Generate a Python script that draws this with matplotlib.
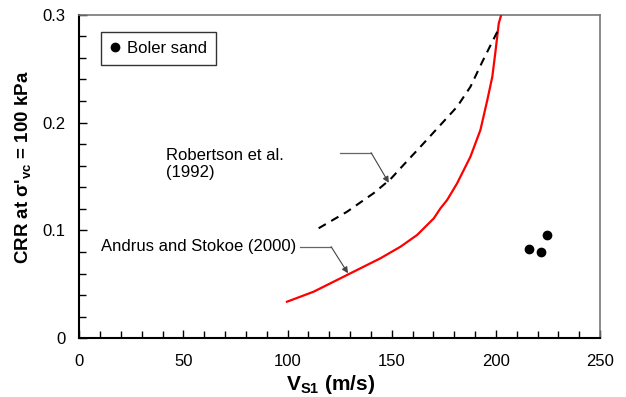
import matplotlib
matplotlib.use("Agg")
import matplotlib.pyplot as plt
from matplotlib.ticker import MultipleLocator

plt.rcParams['font.family'] = ['Liberation Sans', 'DejaVu Sans']
plt.rcParams['mathtext.fontset'] = 'custom'
plt.rcParams['mathtext.rm'] = 'Liberation Sans'
plt.rcParams['mathtext.bf'] = 'Liberation Sans:bold'

# Andrus and Stokoe (2000) curve
as_vs1 = [99.7, 112.5, 126.9, 144.6, 154.2, 162.2, 170.2, 173.4, 176.6, 181.4,
          187.8, 192.6, 195.9, 198.3, 199.9, 201.4, 202.6]
as_crr = [0.0339, 0.0432, 0.0571, 0.0742, 0.0849, 0.0958, 0.1112, 0.1205, 0.1282, 0.1437,
          0.1684, 0.1932, 0.2209, 0.2425, 0.2673, 0.292, 0.300]

# Robertson et al. (1992) curve
rb_vs1 = [114.9, 128.6, 141.3, 149.4, 155.8, 163.8, 173.4, 181.4, 187.8, 193.5, 198.3, 200.7]
rb_crr = [0.102, 0.1174, 0.1345, 0.1475, 0.161, 0.1776, 0.1978, 0.2147, 0.2332, 0.2564, 0.2750, 0.2842]

# Boler sand data
bs_vs1 = [215.9, 221.8, 224.7]
bs_crr = [0.0825, 0.0803, 0.0958]

W, H = 626, 397
fig = plt.figure(figsize=(W/100, H/100), dpi=100)
x0, x1 = 79.3, 600
y0, y1 = 338.3, 14.7
ax = fig.add_axes([x0/W, 1 - y0/H, (x1-x0)/W, (y0-y1)/H])

ax.plot(as_vs1, as_crr, color='#ff0000', lw=1.6, zorder=3)
ax.plot(rb_vs1, rb_crr, color='black', lw=1.5, ls=(0, (4, 3)), zorder=3)
ax.plot(bs_vs1, bs_crr, 'o', color='black', ms=6, ls='none', zorder=4, label='Boler sand')

ax.set_xlim(0, 250)
ax.set_ylim(0, 0.3)
ax.xaxis.set_major_locator(MultipleLocator(50))
ax.xaxis.set_minor_locator(MultipleLocator(10))
ax.yaxis.set_major_locator(MultipleLocator(0.1))
ax.yaxis.set_minor_locator(MultipleLocator(0.02))
ax.yaxis.set_major_formatter(plt.FuncFormatter(lambda v, p: '0' if abs(v) < 1e-9 else f'{v:.1f}'))
ax.tick_params(which='both', direction='in', labelsize=12, width=1, color='black')
ax.tick_params(which='major', length=6)
ax.tick_params(which='minor', length=5)
ax.tick_params(axis='y', which='major', pad=10)
ax.tick_params(axis='x', which='major', pad=11)
for s in ['left', 'bottom']:
    ax.spines[s].set_linewidth(1.5)
    ax.spines[s].set_color('black')
for s in ['top', 'right']:
    ax.spines[s].set_linewidth(1.2)
    ax.spines[s].set_color('#777777')

fig.text(24/W, 1 - 167/H, r"CRR at σ'$_{\mathbf{vc}}$ = 100 kPa", fontsize=13.5, fontweight='bold',
         rotation=90, ha='center', va='center')
fig.text(331/W, 1 - 390.5/H, r"V$_{\mathbf{S1}}$ (m/s)", fontsize=15, fontweight='bold',
         ha='center', va='baseline')

leg = ax.legend(loc='upper left', bbox_to_anchor=(21.5/520, 1 - 17/323.6), frameon=True,
                fancybox=False, fontsize=12, handlelength=0.6, handletextpad=0.4,
                borderpad=0.55, borderaxespad=0)
leg.get_frame().set_edgecolor('black')
leg.get_frame().set_linewidth(1.0)

# Annotations
ax.text(104.0, 0.0849, 'Andrus and Stokoe (2000)', fontsize=12, va='center', ha='right')
ax.plot([106.1, 120.9], [0.0849, 0.0849], color='#666666', lw=0.9)
ax.annotate('', xy=(129.0, 0.0603), xytext=(120.9, 0.0849),
            arrowprops=dict(arrowstyle='-|>', color='#444444', lw=0.8, mutation_scale=9, shrinkA=0, shrinkB=0))

ax.text(41.7, 0.1616, 'Robertson et al.\n(1992)', fontsize=12, va='center', ha='left', linespacing=1.15)
ax.plot([125.4, 140.1], [0.1721, 0.1721], color='#666666', lw=0.9)
ax.annotate('', xy=(148.6, 0.1442), xytext=(140.1, 0.1721),
            arrowprops=dict(arrowstyle='-|>', color='#444444', lw=0.8, mutation_scale=9, shrinkA=0, shrinkB=0))

fig.savefig('out.png', dpi=100)
